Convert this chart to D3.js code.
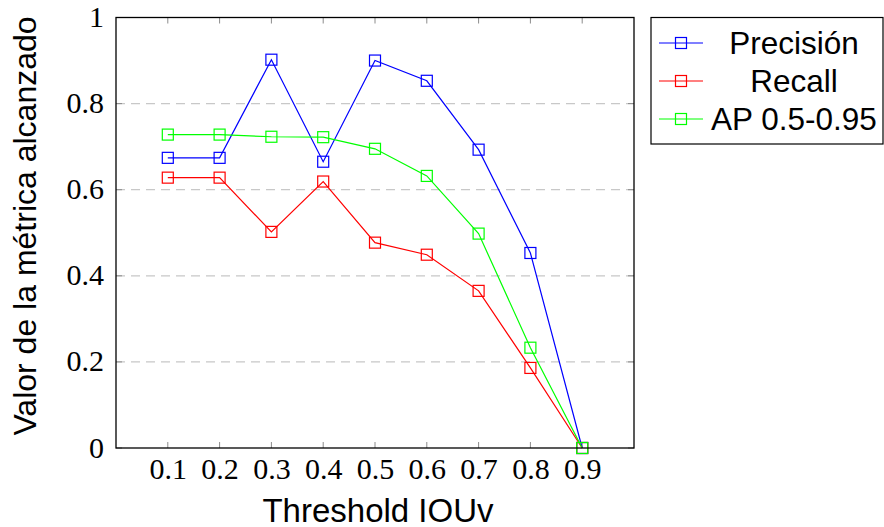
<!DOCTYPE html>
<html>
<head>
<meta charset="utf-8">
<script src="https://cdn.jsdelivr.net/npm/d3@7"></script>
<style>
  body { margin: 0; background: #fff; }
</style>
</head>
<body>
<div id="chart"></div>
<script>
// data
const thresholds = [0.1, 0.2, 0.3, 0.4, 0.5, 0.6, 0.7, 0.8, 0.9];
const precision = [0.674, 0.674, 0.902, 0.665, 0.900, 0.853, 0.693, 0.453, 0.0];
const recall    = [0.628, 0.628, 0.502, 0.619, 0.477, 0.449, 0.365, 0.186, 0.0];
const ap        = [0.728, 0.728, 0.723, 0.722, 0.695, 0.632, 0.498, 0.233, 0.0];
const seriesNames = ["Precisión", "Recall", "AP 0.5-0.95"];
const seriesColors = ["#0000ff", "#ff0000", "#00ff00"];
const yTicks = [0, 0.2, 0.4, 0.6, 0.8, 1];

const W = 884, H = 527;
const margin = {top: 17.5, right: 250, bottom: 79, left: 116};
const width = W - margin.left - margin.right,
      height = H - margin.top - margin.bottom;

const svg = d3.select("#chart")
  .append("svg")
    .attr("width", W)
    .attr("height", H);

const g = svg.append("g")
  .attr("transform", `translate(${margin.left},${margin.top})`);

const x = d3.scaleLinear().domain([0, 1]).range([0, width]);
const y = d3.scaleLinear().domain([0, 1]).range([height, 0]);

// dashed grid
g.append("g")
  .selectAll("line")
  .data(yTicks.filter(d => d > 0 && d < 1))
  .enter().append("line")
    .attr("x1", 0).attr("x2", width)
    .attr("y1", d => y(d)).attr("y2", d => y(d))
    .attr("stroke", "#c8c8c8")
    .attr("stroke-width", 1.2)
    .attr("stroke-dasharray", "9,6");

// inward ticks (pgfplots style)
const tickCol = "#8c8c8c";
const tickLen = 6;
g.append("g").selectAll("line").data(thresholds).enter().append("line")
  .attr("x1", d => x(d)).attr("x2", d => x(d))
  .attr("y1", height).attr("y2", height - tickLen)
  .attr("stroke", tickCol);
g.append("g").selectAll("line").data(thresholds).enter().append("line")
  .attr("x1", d => x(d)).attr("x2", d => x(d))
  .attr("y1", 0).attr("y2", tickLen)
  .attr("stroke", tickCol);
g.append("g").selectAll("line").data(yTicks).enter().append("line")
  .attr("x1", 0).attr("x2", tickLen)
  .attr("y1", d => y(d)).attr("y2", d => y(d))
  .attr("stroke", tickCol);
g.append("g").selectAll("line").data(yTicks).enter().append("line")
  .attr("x1", width).attr("x2", width - tickLen)
  .attr("y1", d => y(d)).attr("y2", d => y(d))
  .attr("stroke", tickCol);

// tick labels via axes
const xAxis = g.append("g")
  .attr("transform", `translate(0,${height})`)
  .call(d3.axisBottom(x).tickValues(thresholds).tickSize(0).tickPadding(12).tickFormat(d3.format(".1f")));
const yAxis = g.append("g")
  .call(d3.axisLeft(y).tickValues(yTicks).tickSize(0).tickPadding(12)
    .tickFormat(d => d === 0 ? "0" : d === 1 ? "1" : d3.format(".1f")(d)));
[xAxis, yAxis].forEach(a => {
  a.select(".domain").remove();
  a.selectAll("text")
    .attr("font-family", "Liberation Serif")
    .attr("font-size", "30px")
    .attr("fill", "#000");
});
yAxis.selectAll("text").attr("dy", "0.3em");
xAxis.selectAll("text").attr("dy", "0.62em");

// lines + markers
const allSeries = [precision, recall, ap];
const line = d3.line()
  .x((d, i) => x(thresholds[i]))
  .y(d => y(d));
const ms = 11;
allSeries.forEach((vals, k) => {
  g.append("path")
    .datum(vals)
    .attr("fill", "none")
    .attr("stroke", seriesColors[k])
    .attr("stroke-width", 1.2)
    .attr("d", line);
  g.append("g").selectAll("rect").data(vals).enter().append("rect")
    .attr("x", (d, i) => x(thresholds[i]) - ms / 2)
    .attr("y", d => y(d) - ms / 2)
    .attr("width", ms).attr("height", ms)
    .attr("fill", "none")
    .attr("stroke", seriesColors[k])
    .attr("stroke-width", 1.2);
});

// frame
g.append("rect")
  .attr("width", width).attr("height", height)
  .attr("fill", "none")
  .attr("stroke", "#000")
  .attr("stroke-width", 1.3);

// axis titles
svg.append("text")
  .attr("x", 378)
  .attr("y", 521.5)
  .attr("text-anchor", "middle")
  .attr("font-family", "Liberation Sans")
  .attr("font-size", "33px")
  .text("Threshold IOUv");
svg.append("text")
  .attr("transform", `translate(36,226) rotate(-90)`)
  .attr("text-anchor", "middle")
  .attr("font-family", "Liberation Sans")
  .attr("font-size", "32px")
  .text("Valor de la métrica alcanzado");

// legend
const lg = svg.append("g");
lg.append("rect")
  .attr("x", 651).attr("y", 17.5)
  .attr("width", 232).attr("height", 126.5)
  .attr("fill", "#fff")
  .attr("stroke", "#000")
  .attr("stroke-width", 1.2);
seriesNames.forEach((name, k) => {
  const cy = 43 + k * 38;
  lg.append("line")
    .attr("x1", 659).attr("x2", 703)
    .attr("y1", cy).attr("y2", cy)
    .attr("stroke", seriesColors[k]).attr("stroke-width", 1.2);
  lg.append("rect")
    .attr("x", 681 - ms / 2).attr("y", cy - ms / 2)
    .attr("width", ms).attr("height", ms)
    .attr("fill", "none")
    .attr("stroke", seriesColors[k]).attr("stroke-width", 1.2);
  lg.append("text")
    .attr("x", 794).attr("y", cy)
    .attr("dy", "0.36em")
    .attr("text-anchor", "middle")
    .attr("font-family", "Liberation Sans")
    .attr("font-size", "31.5px")
    .text(name);
});
</script>
</body>
</html>
